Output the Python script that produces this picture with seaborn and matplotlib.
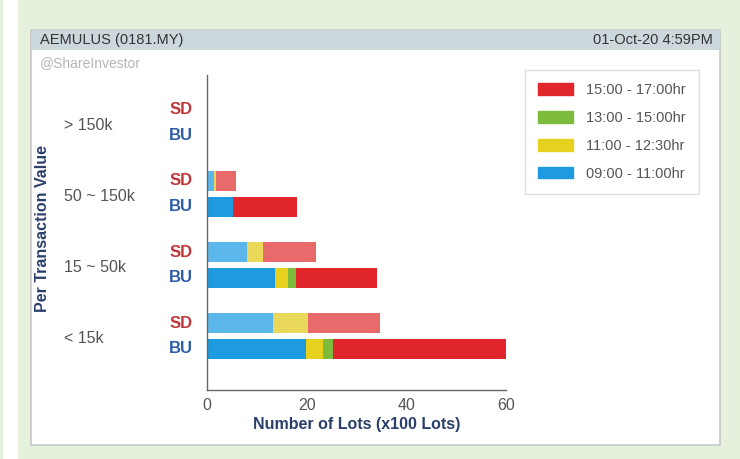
import numpy as np
import pandas as pd
import matplotlib
matplotlib.use("Agg")
import matplotlib.pyplot as plt
import matplotlib.patches as mpatches
from matplotlib.transforms import blended_transform_factory
import seaborn as sns

# ------------------------------------------------------------
# Données (x100 lots), groupes de haut en bas
# ------------------------------------------------------------
groups = ["> 150k", "50 ~ 150k", "15 ~ 50k", "< 15k"]
periods = ["09:00 - 11:00hr", "11:00 - 12:30hr", "13:00 - 15:00hr", "15:00 - 17:00hr"]

bu_0900 = [0, 5.3, 13.6, 19.8]
bu_1100 = [0, 0.0, 2.6, 3.5]
bu_1300 = [0, 0.0, 1.6, 1.9]
bu_1500 = [0, 12.8, 16.3, 34.8]

sd_0900 = [0, 1.4, 8.0, 13.2]
sd_1100 = [0, 0.5, 3.3, 7.1]
sd_1300 = [0, 0.0, 0.0, 0.0]
sd_1500 = [0, 3.9, 10.6, 14.5]

colors = ["#1e9be0", "#e6d21e", "#7dbb3c", "#e0262a"]
sd_colors = ["#5bb7ea", "#ead85a", "#9bcc6c", "#e86a6a"]

# ------------------------------------------------------------
# Mise en forme des données
# ------------------------------------------------------------
rows = []
for i, g in enumerate(groups):
    rows.append(dict(group=g, side="SD", pos=i - 0.18,
                     v0=sd_0900[i], v1=sd_1100[i], v2=sd_1300[i], v3=sd_1500[i]))
    rows.append(dict(group=g, side="BU", pos=i + 0.18,
                     v0=bu_0900[i], v1=bu_1100[i], v2=bu_1300[i], v3=bu_1500[i]))
df = pd.DataFrame(rows)
vals = ["v0", "v1", "v2", "v3"]
cum = df[vals].cumsum(axis=1)
for k, v in enumerate(vals):
    df["c" + str(k)] = cum[v]

# ------------------------------------------------------------
# Figure
# ------------------------------------------------------------
sns.set_style("white")
plt.rcParams["font.family"] = ["Liberation Sans", "DejaVu Sans"]

fig = plt.figure(figsize=(7.4, 4.59), dpi=100)
fig.patch.set_facecolor("#e5f0dd")
W, H = 740, 459

def fx(px):
    return px / W

def fy(py):
    return 1 - py / H

# bande blanche à gauche
fig.add_artist(mpatches.Rectangle((fx(3), 0), fx(15), 1, transform=fig.transFigure,
                                  facecolor="white", edgecolor="none", zorder=0))
# panneau blanc
fig.add_artist(mpatches.Rectangle((fx(31), fy(445)), fx(689), (445 - 30) / H,
                                  transform=fig.transFigure, facecolor="white",
                                  edgecolor="#c8c8c8", lw=1.2, zorder=0))
# bandeau titre
fig.add_artist(mpatches.Rectangle((fx(32), fy(50)), fx(687), 20 / H,
                                  transform=fig.transFigure, facecolor="#cdd8dc",
                                  edgecolor="none", zorder=0))
fig.text(fx(40), fy(40), "AEMULUS (0181.MY)", fontsize=10.5, color="#333333", va="center")
fig.text(fx(713), fy(40), "01-Oct-20 4:59PM", fontsize=10.5, color="#333333",
         va="center", ha="right")
fig.text(fx(40), fy(63), "@ShareInvestor", fontsize=10, color="#b5b5b5", va="center")

ax = fig.add_axes([fx(207), fy(390), fx(506) - fx(207), (390 - 75) / H])
ax.set_facecolor("none")

# barres empilées : on dessine du cumul le plus grand au plus petit
for k in range(3, -1, -1):
    for side, cols in (("SD", sd_colors), ("BU", colors)):
        sub = df[df["side"] == side]
        sns.barplot(data=sub, x="c" + str(k), y="pos", orient="h", native_scale=True,
                    color=cols[k], width=0.28, saturation=1, errorbar=None,
                    edgecolor="none", linewidth=0, ax=ax)

ax.set_xlim(0, 60)
ax.set_ylim(3.76, -0.67)
ax.set_xticks([0, 20, 40, 60])
ax.set_yticks([])
ax.tick_params(axis="x", direction="in", length=4, colors="#666666",
               labelsize=11.5, labelcolor="#555555", pad=6)
for s in ["top", "right"]:
    ax.spines[s].set_visible(False)
for s in ["left", "bottom"]:
    ax.spines[s].set_color("#666666")
    ax.spines[s].set_linewidth(1)

ax.set_xlabel("Number of Lots (x100 Lots)", fontsize=11.5, fontweight="bold",
              color="#2b3f6b", labelpad=3)
ax.set_ylabel("")
fig.text(fx(43), fy(229), "Per Transaction Value", rotation=90, fontsize=11.5,
         fontweight="bold", color="#2b3f6b", ha="center", va="center")

trans = blended_transform_factory(fig.transFigure, ax.transData)
for i, g in enumerate(groups):
    ax.text(fx(64), i + 0.04, g, transform=trans, fontsize=11.5, color="#555555",
            ha="left", va="center", clip_on=False)
    ax.text(fx(181), i - 0.18, "SD", transform=trans, fontsize=12, fontweight="bold",
            color="#c0363a", ha="center", va="center", clip_on=False)
    ax.text(fx(181), i + 0.18, "BU", transform=trans, fontsize=12, fontweight="bold",
            color="#2e5ea8", ha="center", va="center", clip_on=False)

# légende
handles = [mpatches.Patch(color=colors[k], label=periods[k]) for k in range(3, -1, -1)]
leg = fig.legend(handles=handles, loc="upper left", bbox_to_anchor=(fx(525), fy(70)),
                 frameon=True, fancybox=False, fontsize=10.5, handlelength=2.4,
                 handleheight=0.85, labelspacing=0.95, handletextpad=0.9,
                 borderpad=0.9, borderaxespad=0)
leg.get_frame().set_edgecolor("#d8d8d8")
leg.get_frame().set_linewidth(1)
for t in leg.get_texts():
    t.set_color("#555555")

plt.savefig("out.png", dpi=100)
plt.close()
